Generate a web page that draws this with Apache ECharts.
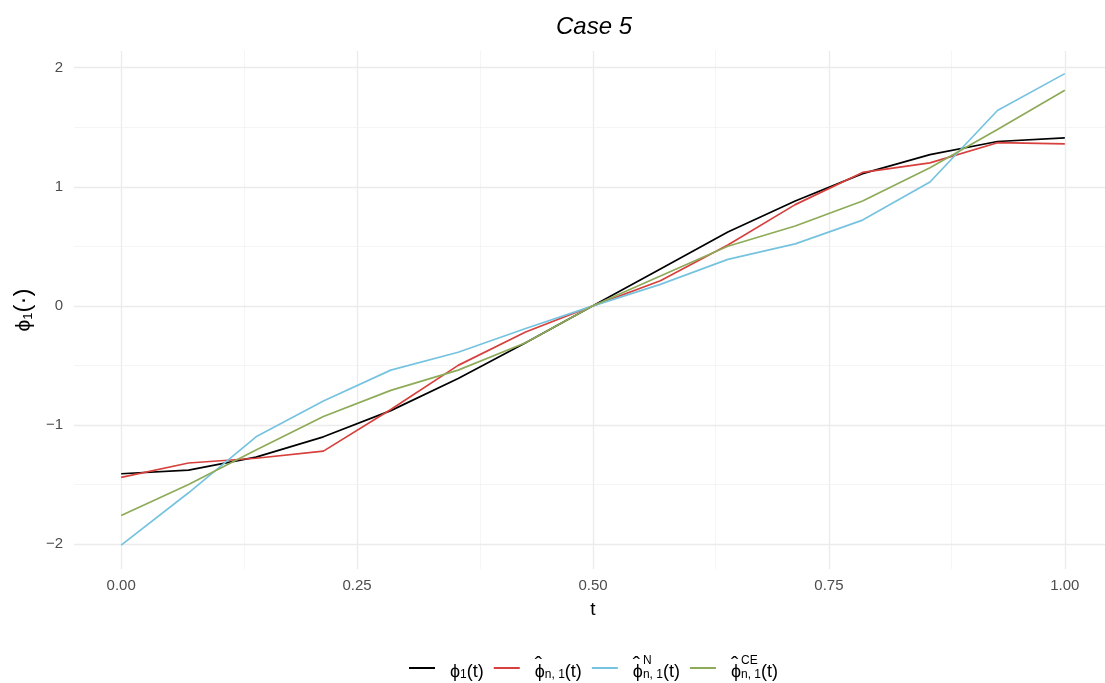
<!DOCTYPE html>
<html>
<head>
<meta charset="utf-8">
<script src="https://cdn.jsdelivr.net/npm/echarts@6/dist/echarts.min.js"></script>
<style>
html,body{margin:0;padding:0;background:#fff;}
#chart{width:1105px;height:683px;}
</style>
</head>
<body>
<div id="chart"></div>
<script>
// ---- data ----
const tValues = [0, 0.0714, 0.1429, 0.2143, 0.2857, 0.3571, 0.4286, 0.5, 0.5714, 0.6429, 0.7143, 0.7857, 0.8571, 0.9286, 1];
const phiTrue = [-1.41, -1.38, -1.27, -1.10, -0.88, -0.61, -0.31, 0.00, 0.31, 0.62, 0.88, 1.11, 1.27, 1.38, 1.41];
const phiHat = [-1.44, -1.32, -1.28, -1.22, -0.87, -0.50, -0.22, 0.00, 0.21, 0.51, 0.85, 1.12, 1.20, 1.37, 1.36];
const phiHatN = [-2.01, -1.57, -1.10, -0.80, -0.54, -0.39, -0.19, 0.00, 0.18, 0.39, 0.52, 0.72, 1.04, 1.64, 1.95];
const phiHatCE = [-1.76, -1.50, -1.21, -0.93, -0.71, -0.54, -0.31, 0.00, 0.25, 0.50, 0.67, 0.88, 1.16, 1.48, 1.81];
const xMajorTicks = [0, 0.25, 0.5, 0.75, 1];
const xMinorTicks = [0.125, 0.375, 0.625, 0.875];
const yMajorTicks = [-2, -1, 0, 1, 2];
const yMinorTicks = [-1.5, -0.5, 0.5, 1.5];
const seriesNames = ['phi', 'phiHat', 'phiHatN', 'phiHatCE'];
const seriesColors = ['#000000', '#d7403c', '#76c3e0', '#8dab58'];

const pair = arr => arr.map((v, i) => [tValues[i], v]);

const gridLines = []
  .concat(xMajorTicks.map(v => ({xAxis: v, lineStyle: {color: '#ebebeb', width: 1.3, type: 'solid'}})))
  .concat(xMinorTicks.map(v => ({xAxis: v, lineStyle: {color: '#f0f0f0', width: 0.7, type: 'solid'}})))
  .concat(yMajorTicks.map(v => ({yAxis: v, lineStyle: {color: '#ebebeb', width: 1.3, type: 'solid'}})))
  .concat(yMinorTicks.map(v => ({yAxis: v, lineStyle: {color: '#f0f0f0', width: 0.7, type: 'solid'}})));

const isMult = (v, step) => Math.abs(v / step - Math.round(v / step)) < 1e-6;
const FONT = '"Liberation Sans", Arial, sans-serif';

const LH = 26;
const legendRich = {
  m: {fontSize: 18, fontFamily: FONT, color: '#000', lineHeight: LH, verticalAlign: 'bottom'},
  hat: {fontSize: 22, fontFamily: FONT, color: '#000', lineHeight: LH, verticalAlign: 'top', width: 0, align: 'left'},
  sub: {fontSize: 12, fontFamily: FONT, color: '#000', verticalAlign: 'bottom', lineHeight: LH},
  sup: {fontSize: 12, fontFamily: FONT, color: '#000', verticalAlign: 'top', lineHeight: LH, width: 0, align: 'left'}
};
const legendText = {
  phi: '{m|ϕ}{sub|1}{m|(t)}',
  phiHat: '{hat|ˆ}{m|ϕ}{sub|n, 1}{m|(t)}',
  phiHatN: '{hat|ˆ}{m|ϕ}{sup|N}{sub|n, 1}{m|(t)}',
  phiHatCE: '{hat|ˆ}{m|ϕ}{sup|CE}{sub|n, 1}{m|(t)}'
};

const allData = [phiTrue, phiHat, phiHatN, phiHatCE];
const series = allData.map((d, i) => ({
  name: seriesNames[i],
  type: 'line',
  data: pair(d),
  showSymbol: false,
  symbol: 'none',
  smooth: false,
  z: 3,
  lineStyle: {color: seriesColors[i], width: 1.7},
  itemStyle: {color: seriesColors[i]},
  animation: false
}));
series.unshift({
  name: 'grid',
  type: 'line',
  data: [],
  silent: true,
  z: 0,
  animation: false,
  markLine: {
    silent: true,
    symbol: ['none', 'none'],
    label: {show: false},
    z: 0,
    animation: false,
    data: gridLines
  }
});

const chart = echarts.init(document.getElementById('chart'), null, {renderer: 'canvas'});
chart.setOption({
  backgroundColor: '#ffffff',
  animation: false,
  title: {
    text: 'Case 5',
    left: 594,
    textAlign: 'center',
    top: 15,
    padding: 0,
    textStyle: {fontSize: 24, fontStyle: 'italic', fontWeight: 'normal', color: '#000', fontFamily: FONT}
  },
  grid: {left: 74, top: 51, width: 1038, height: 518, containLabel: false, outerBoundsMode: 'none'},
  xAxis: {
    type: 'value',
    min: -0.05,
    max: 1.05,
    interval: 0.025,
    name: 't',
    nameLocation: 'middle',
    nameGap: 31,
    nameTextStyle: {fontSize: 19, color: '#000', fontFamily: FONT},
    axisLine: {show: false},
    axisTick: {show: false},
    splitLine: {show: false},
    axisLabel: {
      margin: 9,
      fontSize: 15,
      color: '#4d4d4d',
      fontFamily: FONT,
      showMinLabel: true,
      showMaxLabel: true,
      formatter: v => (isMult(v, 0.25) && v >= -1e-9 && v <= 1 + 1e-9) ? Math.abs(v).toFixed(2) : ''
    }
  },
  yAxis: {
    type: 'value',
    min: -2.21,
    max: 2.14,
    interval: 0.01,
    name: '{m|ϕ}{s|1}{p|(·)}',
    nameLocation: 'middle',
    nameRotate: 90,
    nameGap: 34,
    nameTextStyle: {
      color: '#000',
      rich: {
        m: {fontSize: 21, fontFamily: FONT, color: '#000', lineHeight: 28, verticalAlign: 'bottom'},
        s: {fontSize: 13, fontFamily: FONT, color: '#000', lineHeight: 28, verticalAlign: 'bottom'},
        p: {fontSize: 24, fontFamily: FONT, color: '#000', lineHeight: 28, verticalAlign: 'bottom'}
      }
    },
    axisLine: {show: false},
    axisTick: {show: false},
    splitLine: {show: false},
    axisLabel: {
      margin: 11,
      fontSize: 15,
      color: '#4d4d4d',
      fontFamily: FONT,
      formatter: v => {
        if (!isMult(v, 1)) return '';
        const r = Math.round(v);
        return r < 0 ? '\u2212' + Math.abs(r) : String(r);
      }
    }
  },
  legend: {
    data: seriesNames,
    left: 404,
    top: 650,
    icon: 'rect',
    itemWidth: 26,
    itemHeight: 2,
    itemGap: 10,
    formatter: n => legendText[n],
    textStyle: {fontSize: 18, color: '#000', fontFamily: FONT, padding: [0, 0, 0, 10], rich: legendRich}
  },
  series: series
});
</script>
</body>
</html>
